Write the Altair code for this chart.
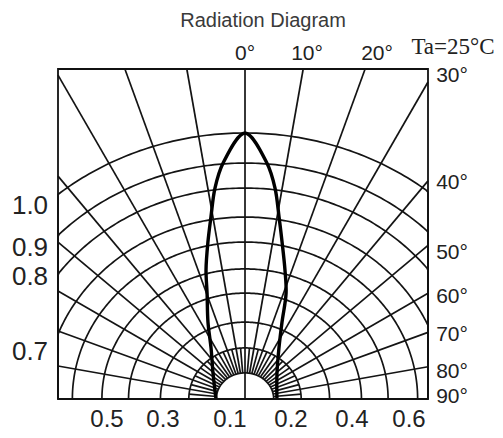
import math
import numpy as np
import pandas as pd
import altair as alt

# ---------------- values ----------------
# drawn radiation curve: angle from the optical axis (deg) and relative intensity
curve_angle = [-90, -50.9, -33.7, -25.7, -19.7, -16.8, -13.3, -10.6, -8.1, -5.3, 0,
               5.3, 8.1, 10.6, 13.3, 17.2, 21.2, 25.7, 33.7, 50.9, 90]
curve_intensity = [0.109, 0.155, 0.230, 0.321, 0.423, 0.507, 0.606, 0.696, 0.801, 0.891, 1.0,
                   0.891, 0.801, 0.696, 0.606, 0.508, 0.427, 0.321, 0.230, 0.155, 0.120]

# polar grid: ring radii (relative intensity) and spoke angles (deg)
ring_radii = [0.098, 0.192, 0.289, 0.398, 0.489, 0.590, 0.684, 0.793, 0.887, 1.0]
spoke_angles = [-80, -70, -60, -50, -40, -30, -20, -10, 0, 10, 20, 30, 40, 50, 60, 70, 80]
fine_spoke_angles = [-85, -75, -65, -55, -45, -35, -25, -15, -5,
                     5, 15, 25, 35, 45, 55, 65, 75, 85]
ring_stretch = 1.1          # rings are drawn slightly wider than tall

# texts
title_text = "Radiation Diagram"
temp_text = "Ta=25°C"
top_labels = ["0°", "10°", "20°"]
side_labels = ["30°", "40°", "50°", "60°", "70°", "80°", "90°"]
left_labels = ["1.0", "0.9", "0.8", "0.7"]
bottom_labels = ["0.5", "0.3", "0.1", "0.2", "0.4", "0.6"]

# ---------------- layout (page pixels -> chart units) ----------------
W, H = 487, 424
CX, CY, UNIT = 245, 399, 266.0          # centre of the diagram on the page, px per unit


def ux(px):
    return (px - CX) / UNIT


def uy(py):
    return (CY - py) / UNIT


XDOM = [ux(8), ux(8 + W)]
YDOM = [uy(8 + H), uy(8)]
BOX_L, BOX_R, BOX_T, BOX_B = ux(58), ux(428), uy(69), 0.0

xs = alt.Scale(domain=XDOM, nice=False, zero=False)
ys = alt.Scale(domain=YDOM, nice=False, zero=False)

# ---------------- tables built from the arrays ----------------
rows = []
for i, r in enumerate(ring_radii):
    a, b = r * ring_stretch, r
    for k, t in enumerate(np.linspace(0, math.pi, 241)):
        x = min(max(a * math.cos(t), BOX_L), BOX_R)
        rows.append({"ring": i, "k": k, "px": x, "py": b * math.sin(t)})
rings = pd.DataFrame(rows)


def ring_hit(r, th):
    a, b = r * ring_stretch, r
    s, c = math.sin(th), math.cos(th)
    return 1.0 / math.sqrt((s / a) ** 2 + (c / b) ** 2)


def box_hit(th):
    s, c = math.sin(th), math.cos(th)
    lim = BOX_T / c
    if s > 0:
        lim = min(lim, BOX_R / s)
    elif s < 0:
        lim = min(lim, BOX_L / s)
    return lim


srows = []
sid = 0
for ang in spoke_angles:
    th = math.radians(ang)
    r0 = 0.0 if ang == 0 else ring_hit(ring_radii[0], th)
    r1 = box_hit(th)
    for k, r in enumerate((r0, r1)):
        srows.append({"sid": sid, "k": k, "px": r * math.sin(th), "py": r * math.cos(th)})
    sid += 1
for ang in fine_spoke_angles:
    th = math.radians(ang)
    r0, r1 = ring_hit(ring_radii[0], th), ring_hit(ring_radii[1], th)
    for k, r in enumerate((r0, r1)):
        srows.append({"sid": sid, "k": k, "px": r * math.sin(th), "py": r * math.cos(th)})
    sid += 1
spokes = pd.DataFrame(srows)

curve = pd.DataFrame({"angle": curve_angle, "I": curve_intensity,
                      "order": list(range(len(curve_angle)))})

box = pd.DataFrame([{"bx": BOX_L, "bx2": BOX_R, "by": BOX_B, "by2": BOX_T}])

GRID = "#141414"
GW = 1.7
LABEL_FONT = "Liberation Sans, Arial, sans-serif"

ring_layer = alt.Chart(rings).mark_line(stroke=GRID, strokeWidth=GW).encode(
    x=alt.X("px:Q", scale=xs, axis=None),
    y=alt.Y("py:Q", scale=ys, axis=None),
    detail="ring:N",
    order="k:Q",
)

spoke_layer = alt.Chart(spokes).mark_line(stroke=GRID, strokeWidth=GW).encode(
    x=alt.X("px:Q", scale=xs, axis=None),
    y=alt.Y("py:Q", scale=ys, axis=None),
    detail="sid:N",
    order="k:Q",
)

curve_layer = alt.Chart(curve).transform_calculate(
    cx="datum.I * sin(datum.angle * PI / 180)",
    cy="datum.I * cos(datum.angle * PI / 180)",
).mark_line(stroke="#000000", strokeWidth=3.4, interpolate="catmull-rom").encode(
    x=alt.X("cx:Q", scale=xs, axis=None),
    y=alt.Y("cy:Q", scale=ys, axis=None),
    order="order:Q",
)

box_layer = alt.Chart(box).mark_rect(filled=False, stroke="#111111", strokeWidth=1.8).encode(
    x=alt.X("bx:Q", scale=xs, axis=None), x2="bx2:Q",
    y=alt.Y("by:Q", scale=ys, axis=None), y2="by2:Q",
)


def text_layer(labels, px, py, size, font, color="#222222"):
    df = pd.DataFrame({"t": labels, "tx": [ux(v) for v in px], "ty": [uy(v) for v in py]})
    return alt.Chart(df).mark_text(
        fontSize=size, font=font, color=color, align="center", baseline="middle",
    ).encode(
        x=alt.X("tx:Q", scale=xs, axis=None), y=alt.Y("ty:Q", scale=ys, axis=None), text="t:N"
    )


texts = [
    text_layer([title_text], [263], [21], 20, "Liberation Sans, Arial, sans-serif", "#3a3a3a"),
    text_layer([temp_text], [453], [47], 23, "Liberation Serif, Times New Roman, serif"),
    text_layer(top_labels, [245, 307, 377], [54, 54, 54], 21, LABEL_FONT),
    text_layer(side_labels, [452] * 7, [76, 183, 253, 297, 335, 372, 397], 21, LABEL_FONT),
    text_layer(left_labels, [30] * 4, [206, 248, 277, 352], 26, LABEL_FONT),
    text_layer(bottom_labels, [107, 163, 230, 291, 352, 409], [420] * 6, 24, LABEL_FONT),
]

chart = alt.layer(ring_layer, spoke_layer, curve_layer, box_layer, *texts).properties(
    width=W, height=H,
    autosize=alt.AutoSizeParams(type="none"),
    padding=0,
    background="white",
).configure_view(stroke=None)

chart.save("out.html", embed_options={"renderer": "svg", "actions": False})
